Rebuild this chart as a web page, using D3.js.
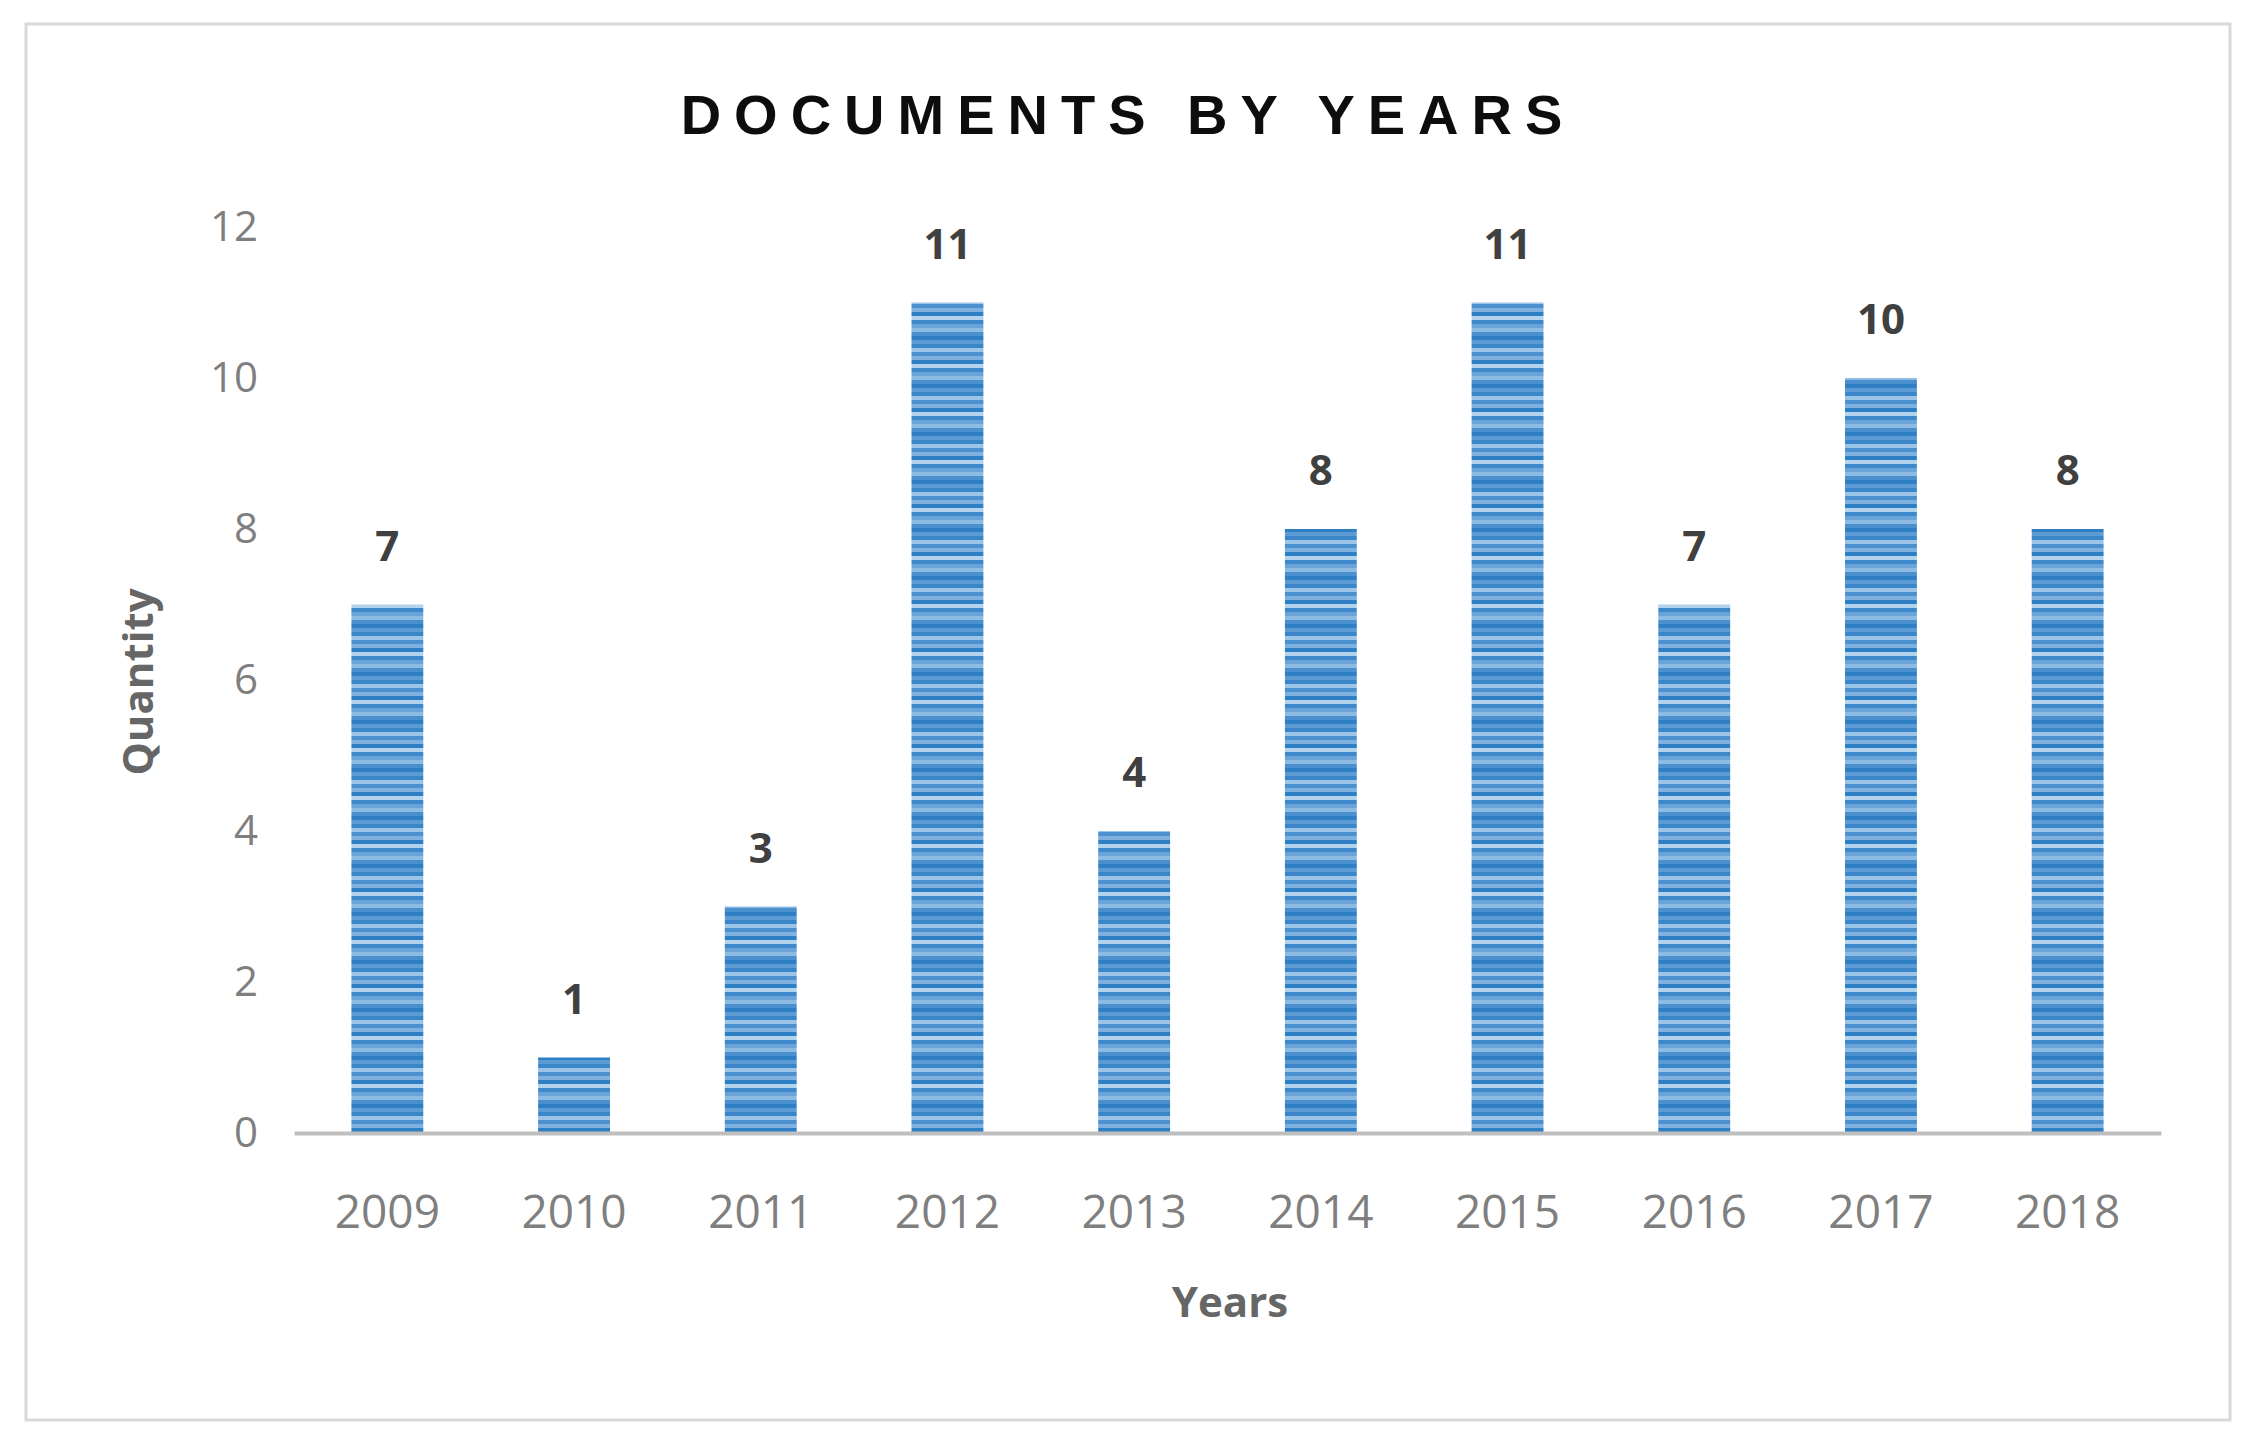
<!DOCTYPE html><html><head><meta charset="utf-8">
<script src="https://cdn.jsdelivr.net/npm/d3@7"></script>
<style>body{margin:0;background:#fff}</style></head><body>
<svg id="c" width="2249" height="1443"></svg>
<script>
const years=["2009","2010","2011","2012","2013","2014","2015","2016","2017","2018"];
const counts=[7,1,3,11,4,8,11,7,10,8];
const yTicks=[0,2,4,6,8,10,12];
const svg=d3.select("#c");
const font="'Open Sans', 'Liberation Sans', sans-serif";
svg.append("rect").attr("x",26).attr("y",24).attr("width",2204).attr("height",1396).attr("fill","#fff").attr("stroke","#d9d9d9").attr("stroke-width",3);
const defs=svg.append("defs");
const pat=defs.append("pattern").attr("id","st").attr("patternUnits","userSpaceOnUse").attr("width",10).attr("height",48);
const shades=["#2f7fc4","#5d9bd4","#3a86c9","#9cc3e8","#4b90cf","#7fb0de","#2f7fc4","#b3d2ee","#3d89cb","#6aa3d8","#8dbbe4","#4a8fce"];
shades.forEach((c,i)=>pat.append("rect").attr("x",0).attr("y",i*4).attr("width",10).attr("height",4).attr("fill",c));
const x=d3.scaleBand().domain(years).range([294,2161]).paddingInner(0.615).paddingOuter(0.3075);
const y=d3.scaleLinear().domain([0,12]).range([1133,227]);
svg.append("text").attr("x",1128).attr("y",134).attr("text-anchor","middle").attr("font-family","'Liberation Sans', Arial, sans-serif").attr("font-weight","bold").attr("font-size",56).attr("letter-spacing",13).attr("fill","#0d0d0d").text("DOCUMENTS BY YEARS");
const g=svg.append("g");
g.selectAll(".b").data(years).join("rect").attr("x",d=>x(d)).attr("width",x.bandwidth())
 .attr("y",(d,i)=>y(counts[i])).attr("height",(d,i)=>y(0)-y(counts[i])).attr("fill","url(#st)");
g.selectAll(".v").data(years).join("text").attr("x",d=>x(d)+x.bandwidth()/2).attr("y",(d,i)=>y(counts[i])-44)
 .attr("text-anchor","middle").attr("font-family",font).attr("font-weight","bold").attr("font-size",42).attr("fill","#404040").text((d,i)=>counts[i]);
const ya=svg.append("g").attr("transform","translate(294,0)").call(d3.axisLeft(y).tickValues(yTicks).tickSize(0).tickPadding(36));
ya.select(".domain").remove();
ya.selectAll("text").attr("font-family",font).attr("font-size",42).attr("fill","#7f7f7f");
const xa=svg.append("g").attr("transform","translate(0,1133)").call(d3.axisBottom(x).tickSize(0).tickPadding(62));
xa.select(".domain").attr("stroke","#bfbfbf").attr("stroke-width",4);
xa.selectAll("text").attr("font-family",font).attr("font-size",46).attr("fill","#7f7f7f");
svg.append("text").attr("x",1230).attr("y",1317).attr("text-anchor","middle").attr("font-family",font).attr("font-weight","bold").attr("font-size",42).attr("fill","#666").text("Years");
svg.append("text").attr("transform","translate(153,682) rotate(-90)").attr("text-anchor","middle").attr("font-family",font).attr("font-weight","bold").attr("font-size",42).attr("fill","#666").text("Quantity");
</script></body></html>
